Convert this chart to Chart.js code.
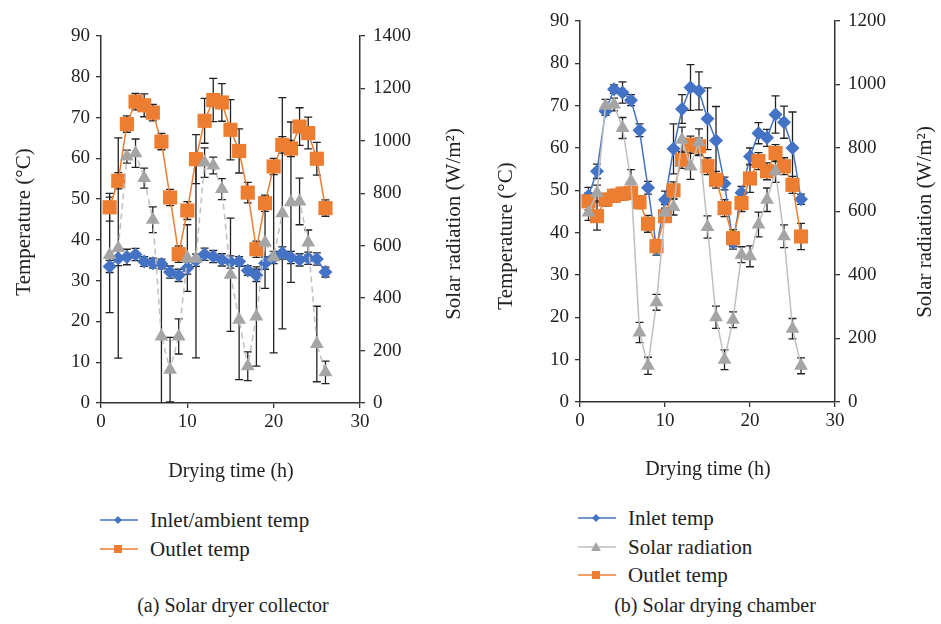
<!DOCTYPE html>
<html>
<head>
<meta charset="utf-8">
<script src="https://cdn.jsdelivr.net/npm/chart.js@4"></script>
<style>
  body { margin: 0; background: #fff; width: 941px; height: 624px; position: relative; overflow: hidden;
         font-family: "Liberation Serif", "DejaVu Serif", serif; color: #222; }
  canvas { position: absolute; top: 0; }
  .legend { position: absolute; font-size: 21px; }
  .row { position: absolute; white-space: nowrap; height: 22px; line-height: 22px; }
  .row svg { position: absolute; left: 0; top: 6px; }
  .row span { position: absolute; }
  .caption { position: absolute; top: 594px; font-size: 20px; width: 300px; text-align: center; }
</style>
</head>
<body>
<canvas id="collector" width="470" height="490" style="left:0"></canvas>
<canvas id="chamber" width="471" height="490" style="left:470px"></canvas>

<div class="legend" style="left:100px; top:509px;">
  <div class="row" style="top:0">
    <svg width="38" height="10"><line x1="0" y1="5" x2="38" y2="5" stroke="#4472C4" stroke-width="1.5"/><polygon points="18,1 22,5 18,9 14,5" fill="#4472C4"/></svg>
    <span style="left:50px">Inlet/ambient temp</span>
  </div>
  <div class="row" style="top:29px">
    <svg width="38" height="10"><line x1="0" y1="5" x2="38" y2="5" stroke="#ED7D31" stroke-width="1.5"/><rect x="14" y="1" width="8" height="8" fill="#ED7D31"/></svg>
    <span style="left:50px">Outlet temp</span>
  </div>
</div>

<div class="legend" style="left:578px; top:507px;">
  <div class="row" style="top:0">
    <svg width="38" height="10"><line x1="0" y1="5" x2="38" y2="5" stroke="#4472C4" stroke-width="1.5"/><polygon points="18,1 22,5 18,9 14,5" fill="#4472C4"/></svg>
    <span style="left:50px">Inlet temp</span>
  </div>
  <div class="row" style="top:29px">
    <svg width="38" height="10"><line x1="0" y1="5" x2="38" y2="5" stroke="#BFBFBF" stroke-width="1.5"/><polygon points="18,0 23,9 13,9" fill="#A5A5A5"/></svg>
    <span style="left:50px">Solar radiation</span>
  </div>
  <div class="row" style="top:57px">
    <svg width="38" height="10"><line x1="0" y1="5" x2="38" y2="5" stroke="#ED7D31" stroke-width="1.5"/><rect x="14" y="1" width="8" height="8" fill="#ED7D31"/></svg>
    <span style="left:50px">Outlet temp</span>
  </div>
</div>

<div class="caption" style="left:83px">(a) Solar dryer collector</div>
<div class="caption" style="left:565px">(b) Solar drying chamber</div>

<script>
// Drying time (h)
const hours = [1, 2, 3, 4, 5, 6, 7, 8, 9, 10, 11, 12, 13, 14, 15, 16, 17, 18, 19, 20, 21, 22, 23, 24, 25, 26];

// (a) Solar dryer collector
const collectorInlet = [33.5, 35.5, 35.8, 36.4, 34.7, 34.3, 34.1, 32.1, 31.3, 33.1, 35.0, 36.5, 35.9, 35.1, 34.6, 34.7, 32.5, 31.3, 34.3, 35.7, 36.8, 35.7, 35.1, 35.5, 35.3, 32.1];
const collectorInletErr = [1.5, 1.8, 1.9, 1.5, 1.2, 1.2, 1.2, 1.5, 1.5, 1.5, 1.5, 1.5, 1.5, 1.5, 1.5, 1.2, 1.2, 1.5, 1.5, 1.5, 1.5, 1.5, 1.5, 1.5, 1.5, 1.2];
const collectorOutlet = [48.0, 54.5, 68.4, 73.9, 73.0, 71.2, 64.1, 50.4, 36.5, 47.2, 59.8, 69.2, 74.3, 73.7, 67.0, 61.8, 51.6, 37.7, 49.0, 58.0, 63.3, 62.4, 67.8, 66.2, 59.9, 47.8];
const collectorOutletErr = [3.4, 2.0, 2.0, 2.0, 2.8, 2.0, 2.0, 2.0, 2.0, 2.2, 6.0, 5.5, 5.3, 4.6, 7.4, 5.4, 2.5, 2.0, 2.0, 2.0, 2.0, 2.0, 4.6, 3.9, 4.0, 2.0];
const collectorRad = [565, 591, 940, 953, 858, 699, 254, 127, 254, 553, 550, 917, 906, 816, 489, 318, 140, 330, 612, 556, 724, 766, 769, 612, 225, 117];
const collectorRadErr = [220, 420, 25, 54, 38, 49, 286, 123, 67, 127, 378, 56, 32, 40, 216, 229, 55, 189, 175, 365, 441, 306, 89, 48, 144, 43];

// (b) Solar drying chamber
const chamberInlet = [48.7, 54.5, 68.7, 73.9, 73.1, 71.3, 64.2, 50.6, 36.2, 47.8, 59.8, 69.2, 74.3, 73.5, 66.9, 61.8, 51.6, 37.6, 49.4, 58.0, 63.5, 62.4, 67.9, 66.1, 60.0, 47.9];
const chamberInletErr = [2.0, 1.7, 1.0, 1.0, 2.5, 1.3, 1.5, 1.5, 1.5, 2.0, 5.9, 3.4, 5.4, 4.5, 7.3, 8.0, 1.5, 1.5, 1.5, 2.0, 2.5, 2.0, 4.4, 3.8, 8.5, 1.2];
const chamberRad = [597, 658, 933, 937, 863, 695, 219, 114, 314, 597, 614, 826, 742, 818, 551, 267, 133, 259, 464, 459, 559, 637, 727, 522, 231, 114];
const chamberRadErr = [25, 25, 20, 20, 33, 37, 32, 27, 25, 25, 25, 40, 41, 42, 35, 35, 31, 25, 25, 33, 39, 37, 35, 36, 32, 25];
const chamberOutlet = [47.4, 43.9, 47.8, 48.7, 49.2, 49.4, 47.2, 42.1, 36.8, 43.9, 50.0, 57.2, 60.8, 60.4, 55.7, 52.5, 45.8, 38.7, 47.0, 52.8, 56.9, 54.5, 58.8, 55.7, 51.3, 39.1];
const chamberOutletErr = [2.0, 3.3, 1.5, 1.5, 1.5, 1.5, 1.5, 2.0, 1.5, 1.2, 2.0, 2.0, 2.0, 2.0, 2.0, 2.0, 2.0, 2.0, 2.0, 3.3, 2.0, 2.0, 2.0, 2.0, 2.0, 3.1];

const BLUE = '#4472C4', ORANGE = '#ED7D31', GRAY = '#A5A5A5';
const SERIF = '"Liberation Serif", "DejaVu Serif", serif';
const FONT = { family: SERIF, size: 19 };
const INK = '#222';
const AXIS = '#333';

function points(ys) {
  return hours.map((h, i) => ({ x: h, y: ys[i] }));
}

// vertical error bars drawn through the dataset's own scales
const errorBars = {
  id: 'errorBars',
  beforeDatasetsDraw(chart) {
    const ctx = chart.ctx, area = chart.chartArea;
    ctx.save();
    ctx.beginPath();
    ctx.rect(area.left, area.top - 30, area.right - area.left, area.bottom - area.top + 30);
    ctx.clip();
    ctx.strokeStyle = INK;
    ctx.lineWidth = 1.3;
    chart.data.datasets.forEach((ds, i) => {
      if (!ds.errors) return;
      const meta = chart.getDatasetMeta(i);
      const ys = chart.scales[meta.yAxisID];
      meta.data.forEach((pt, j) => {
        const v = ds.data[j].y, e = ds.errors[j];
        const top = ys.getPixelForValue(v + e);
        const bot = ys.getPixelForValue(Math.max(v - e, 0));
        ctx.beginPath();
        ctx.moveTo(pt.x, top); ctx.lineTo(pt.x, bot);
        ctx.moveTo(pt.x - 4, top); ctx.lineTo(pt.x + 4, top);
        if (v - e > 0) { ctx.moveTo(pt.x - 4, bot); ctx.lineTo(pt.x + 4, bot); }
        ctx.stroke();
      });
    });
    ctx.restore();
  }
};

// axis titles, both y titles read bottom to top
const axisTitles = {
  id: 'axisTitles',
  afterDraw(chart, args, opts) {
    const ctx = chart.ctx;
    ctx.save();
    ctx.fillStyle = INK;
    ctx.textAlign = 'center';
    ctx.textBaseline = 'middle';
    opts.list.forEach(t => {
      ctx.font = t.size + 'px ' + SERIF;
      ctx.save();
      ctx.translate(t.x, t.y);
      if (t.rotate) ctx.rotate(-Math.PI / 2);
      ctx.fillText(t.text, 0, 0);
      ctx.restore();
    });
    ctx.restore();
  }
};

function makeChart(id, datasets, cfg) {
  const tickGrid = { display: true, drawOnChartArea: false, drawTicks: true, tickLength: 5, color: AXIS, lineWidth: 1.3 };
  const border = { display: true, color: AXIS, width: 1.5 };
  const plain = v => String(v);
  return new Chart(document.getElementById(id), {
    type: 'line',
    data: { datasets: datasets },
    plugins: [errorBars, axisTitles],
    options: {
      responsive: false,
      animation: false,
      devicePixelRatio: 1,
      layout: { padding: { top: cfg.top, left: 0, right: 0, bottom: 0 } },
      plugins: {
        legend: { display: false },
        tooltip: { enabled: false },
        axisTitles: { list: cfg.titles }
      },
      scales: {
        x: {
          type: 'linear', min: 0, max: 30,
          ticks: { stepSize: 10, font: FONT, color: INK, padding: 3, maxRotation: 0, callback: plain },
          grid: tickGrid, border: border,
          afterFit: s => { s.height = cfg.xHeight; }
        },
        y: {
          position: 'left', min: 0, max: 90,
          ticks: { stepSize: 10, font: FONT, color: INK, padding: 6, callback: plain },
          grid: tickGrid, border: border,
          afterFit: s => { s.width = cfg.yWidth; }
        },
        y1: {
          position: 'right', min: 0, max: cfg.radMax,
          ticks: { stepSize: 200, font: FONT, color: INK, padding: 8, callback: plain },
          grid: tickGrid, border: border,
          afterFit: s => { s.width = cfg.y1Width; }
        }
      }
    }
  });
}

function series(label, data, errors, color, style, yAxisID, order, dashed) {
  return {
    label: label,
    data: points(data),
    errors: errors,
    yAxisID: yAxisID,
    order: order,
    borderColor: style.line,
    borderWidth: 1.5,
    borderDash: dashed ? [6, 4] : [],
    backgroundColor: color,
    pointBackgroundColor: color,
    pointBorderColor: color,
    pointBorderWidth: 0,
    pointStyle: style.shape,
    pointRadius: style.r,
    tension: 0,
    fill: false
  };
}

const diamond = { shape: 'rectRot', r: 7, line: BLUE };
const square = { shape: 'rect', r: 10, line: ORANGE };
const triangle = { shape: 'triangle', r: 8, line: '#C0C0C0' };

makeChart('collector', [
  series('Inlet/ambient temp', collectorInlet, collectorInletErr, BLUE, diamond, 'y', 2),
  series('Outlet temp', collectorOutlet, collectorOutletErr, ORANGE, square, 'y', 1),
  series('Solar radiation', collectorRad, collectorRadErr, GRAY, triangle, 'y1', 0, true)
], {
  top: 36, yWidth: 101, y1Width: 110, xHeight: 87, radMax: 1400,
  titles: [
    { text: 'Drying time (h)', x: 231, y: 472, size: 20 },
    { text: 'Temperature (°C)', x: 24, y: 222, size: 21, rotate: true },
    { text: 'Solar radiation (W/m²)', x: 454, y: 224, size: 21, rotate: true }
  ]
});

makeChart('chamber', [
  series('Inlet temp', chamberInlet, chamberInletErr, BLUE, diamond, 'y', 2),
  series('Solar radiation', chamberRad, chamberRadErr, GRAY, triangle, 'y1', 0),
  series('Outlet temp', chamberOutlet, chamberOutletErr, ORANGE, square, 'y', 1)
], {
  top: 21, yWidth: 110, y1Width: 106, xHeight: 88, radMax: 1200,
  titles: [
    { text: 'Drying time (h)', x: 238, y: 470, size: 20 },
    { text: 'Temperature (°C)', x: 36, y: 236, size: 21, rotate: true },
    { text: 'Solar radiation (W/m²)', x: 455, y: 222, size: 21, rotate: true }
  ]
});
</script>
</body>
</html>
